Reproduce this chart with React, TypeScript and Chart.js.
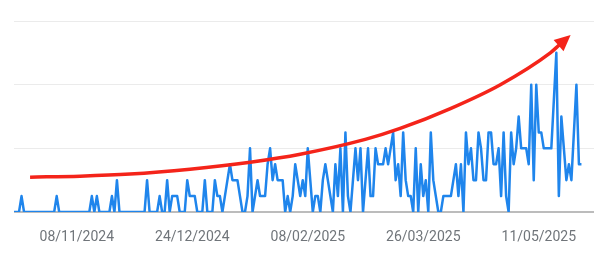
import React, { useEffect, useRef } from 'react';
import { Chart, registerables } from 'chart.js';

Chart.register(...registerables);

// Daily search interest, first day 14/10/2024 (index 0)
const interest = [
  0, 0, 0, 10, 0, 0, 0, 0, 0, 0,
  0, 0, 0, 0, 0, 0, 0, 10, 0, 0,
  0, 0, 0, 0, 0, 0, 0, 0, 0, 0,
  0, 10, 0, 10, 0, 0, 0, 0, 0, 10,
  0, 20, 0, 0, 0, 0, 0, 0, 0, 0,
  0, 0, 0, 20, 0, 0, 0, 0, 10, 0,
  0, 20, 0, 10, 10, 10, 0, 0, 0, 20,
  10, 10, 10, 0, 0, 0, 20, 0, 0, 0,
  20, 10, 10, 0, 10, 20, 30, 20, 20, 20,
  10, 0, 0, 10, 40, 0, 10, 20, 10, 10,
  10, 30, 40, 20, 30, 20, 20, 20, 0, 10,
  0, 10, 30, 20, 10, 20, 10, 40, 20, 0,
  10, 10, 0, 20, 30, 20, 10, 0, 30, 10,
  40, 0, 50, 10, 0, 20, 40, 20, 40, 0,
  20, 40, 10, 10, 40, 30, 30, 30, 40, 30,
  40, 50, 20, 30, 10, 50, 20, 10, 10, 0,
  40, 0, 30, 10, 20, 0, 50, 20, 10, 0,
  0, 10, 10, 10, 10, 20, 30, 10, 30, 0,
  50, 30, 40, 20, 20, 50, 40, 20, 20, 50,
  50, 30, 30, 40, 10, 50, 10, 0, 50, 30,
  40, 60, 40, 40, 40, 30, 80, 20, 80, 50,
  50, 40, 40, 40, 40, 70, 100, 10, 60, 40,
  20, 30, 20, 50, 80, 30, 30,
];

const tickDays = [25, 71, 117, 163, 209];
const tickLabels = ['08/11/2024', '24/12/2024', '08/02/2025', '26/03/2025', '11/05/2025'];

// Hand-drawn red trend arrow (day index, value)
const trendDays = [6.4, 26.3, 46.2, 70.1, 94.1, 114.0, 139.9, 153.8, 173.8, 193.7, 213.6, 217.2];
const trendValues = [21.9, 22.5, 23.8, 26.9, 31.3, 36.3, 45.6, 52.5, 65.0, 80.0, 100.0, 105.0];

const X_MAX = 231;
const Y_MAX = 120;

export default function App() {
  const ref = useRef<HTMLCanvasElement>(null);

  useEffect(() => {
    if (!ref.current) return;
    const arrowHead = {
      id: 'arrowHead',
      afterDatasetsDraw(chart: any) {
        const meta = chart.getDatasetMeta(0);
        const pts = meta.data;
        if (pts.length < 2) return;
        const a = pts[pts.length - 2];
        const b = pts[pts.length - 1];
        const ang = Math.atan2(b.y - a.y, b.x - a.x);
        const c = Math.cos(ang), s = Math.sin(ang);
        const len = 15, half = 7.5;
        const ctx = chart.ctx;
        ctx.save();
        ctx.fillStyle = '#f4241a';
        ctx.beginPath();
        ctx.moveTo(b.x + c * len, b.y + s * len);
        ctx.lineTo(b.x - c * 1 - s * half, b.y - s * 1 + c * half);
        ctx.lineTo(b.x - c * 1 + s * half, b.y - s * 1 - c * half);
        ctx.closePath();
        ctx.fill();
        ctx.restore();
      },
    };

    const chart = new Chart(ref.current, {
      type: 'line',
      data: {
        datasets: [
          {
            data: trendDays.map((d, i) => ({ x: d, y: trendValues[i] })),
            borderColor: '#f4241a',
            borderWidth: 3.5,
            pointRadius: 0,
            cubicInterpolationMode: 'monotone',
            fill: false,
          },
          {
            data: interest.map((v, i) => ({ x: i, y: v })),
            borderColor: '#1f85ec',
            borderWidth: 2.5,
            borderJoinStyle: 'round',
            pointRadius: 0,
            tension: 0,
            fill: false,
          },
        ],
      },
      options: {
        responsive: false,
        animation: false,
        events: [],
        layout: { padding: { left: 6, right: 1, top: 13, bottom: 0 } },
        plugins: { legend: { display: false }, tooltip: { enabled: false } },
        scales: {
          x: {
            type: 'linear',
            min: 0,
            max: X_MAX,
            grid: { display: false, drawTicks: false },
            border: { display: false },
            afterBuildTicks: (axis: any) => {
              axis.ticks = tickDays.map((v) => ({ value: v }));
            },
            afterFit: (axis: any) => {
              axis.height = 35;
            },
            ticks: {
              autoSkip: false,
              maxRotation: 0,
              padding: 17,
              color: '#70757a',
              font: { family: 'Roboto', size: 14 },
              callback: (value: any) => {
                const i = tickDays.indexOf(Number(value));
                return i >= 0 ? tickLabels[i] : '';
              },
            },
          },
          y: {
            min: 0,
            max: Y_MAX,
            ticks: { display: false, stepSize: 40 },
            grid: {
              drawTicks: false,
              color: (ctx: any) => (ctx.tick && ctx.tick.value === 0 ? '#bcbcbc' : '#ebebeb'),
              lineWidth: (ctx: any) => (ctx.tick && ctx.tick.value === 0 ? 2 : 1),
            },
            border: { display: false },
          },
        },
      },
      plugins: [arrowHead],
    } as any);
    return () => chart.destroy();
  }, []);

  return <canvas ref={ref} width={587} height={239} style={{ display: 'block', width: 587, height: 239 }} />;
}
